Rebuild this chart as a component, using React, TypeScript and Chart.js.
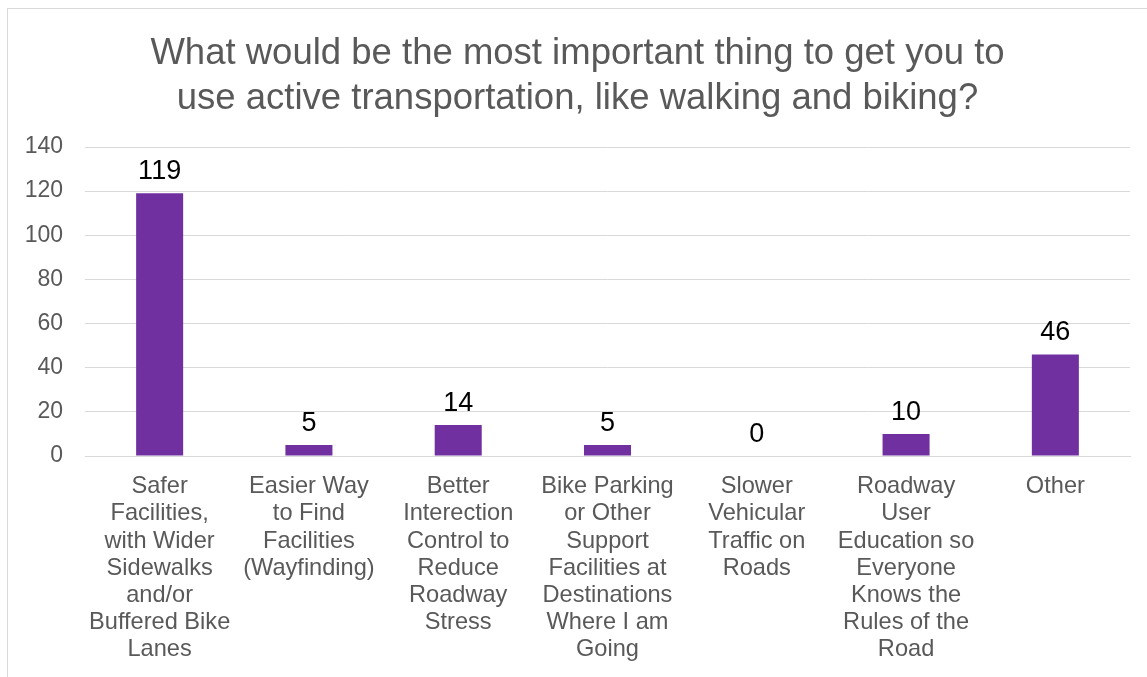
import React, { useEffect, useRef } from "react";
import { Chart, registerables } from "chart.js";

Chart.register(...registerables);

const titleLines = [
  "What would be the most important thing to get you to",
  "use active transportation, like walking and biking?",
];

const categories: string[][] = [
  ["Safer", "Facilities,", "with Wider", "Sidewalks", "and/or", "Buffered Bike", "Lanes"],
  ["Easier Way", "to Find", "Facilities", "(Wayfinding)"],
  ["Better", "Interection", "Control to", "Reduce", "Roadway", "Stress"],
  ["Bike Parking", "or Other", "Support", "Facilities at", "Destinations", "Where I am", "Going"],
  ["Slower", "Vehicular", "Traffic on", "Roads"],
  ["Roadway", "User", "Education so", "Everyone", "Knows the", "Rules of the", "Road"],
  ["Other"],
];

const counts = [119, 5, 14, 5, 0, 10, 46];

const yMin = 0;
const yMax = 140;
const yStep = 20;

const FONT = "'Liberation Sans', Arial, Helvetica, sans-serif";

const dataLabelPlugin = {
  id: "dataLabels",
  afterDatasetsDraw(chart: any) {
    const ctx = chart.ctx;
    const meta = chart.getDatasetMeta(0);
    const data = chart.data.datasets[0].data as number[];
    ctx.save();
    ctx.font = `27px ${FONT}`;
    ctx.fillStyle = "#000000";
    ctx.textAlign = "center";
    ctx.textBaseline = "alphabetic";
    meta.data.forEach((bar: any, i: number) => {
      ctx.fillText(String(data[i]), bar.x, bar.y - 14);
    });
    ctx.restore();
  },
};

export default function App() {
  const canvasRef = useRef<HTMLCanvasElement | null>(null);

  useEffect(() => {
    if (!canvasRef.current) return;
    const chart = new Chart(canvasRef.current, {
      type: "bar",
      data: {
        labels: categories,
        datasets: [
          {
            data: counts,
            backgroundColor: "#7030A0",
            barPercentage: 0.315,
            categoryPercentage: 1,
          },
        ],
      },
      options: {
        animation: false,
        responsive: true,
        maintainAspectRatio: false,
        layout: { padding: { left: 17, right: 17, top: 0, bottom: 0 } },
        plugins: {
          legend: { display: false },
          tooltip: { enabled: false },
          title: {
            display: true,
            text: titleLines,
            color: "#595959",
            font: { family: FONT, size: 36.5, weight: "normal", lineHeight: 1.233 },
            padding: { top: 22.5, bottom: 25.5 },
          },
        },
        scales: {
          x: {
            grid: { display: false, drawTicks: false },
            border: { display: true, color: "#d9d9d9", width: 1 },
            ticks: {
              color: "#595959",
              font: { family: FONT, size: 23.6, lineHeight: 1.153 },
              padding: 17,
              maxRotation: 0,
              minRotation: 0,
              autoSkip: false,
            },
            afterFit: (s: any) => {
              s.height = 221;
            },
          },
          y: {
            min: yMin,
            max: yMax,
            grid: { color: "#d9d9d9", lineWidth: 1, drawTicks: false },
            border: { display: false },
            ticks: {
              stepSize: yStep,
              color: "#595959",
              font: { family: FONT, size: 23 },
              padding: 22,
            },
            afterFit: (s: any) => {
              s.width = 60;
            },
          },
        },
      },
      plugins: [dataLabelPlugin],
    });
    return () => chart.destroy();
  }, []);

  return (
    <div
      style={{
        position: "fixed",
        left: 7,
        top: 8,
        width: 1140,
        height: 669,
        borderLeft: "1px solid #d9d9d9",
        borderTop: "1px solid #d9d9d9",
        background: "#ffffff",
        boxSizing: "border-box",
      }}
    >
      <div style={{ position: "relative", width: 1139, height: 668 }}>
        <canvas ref={canvasRef} />
      </div>
    </div>
  );
}
